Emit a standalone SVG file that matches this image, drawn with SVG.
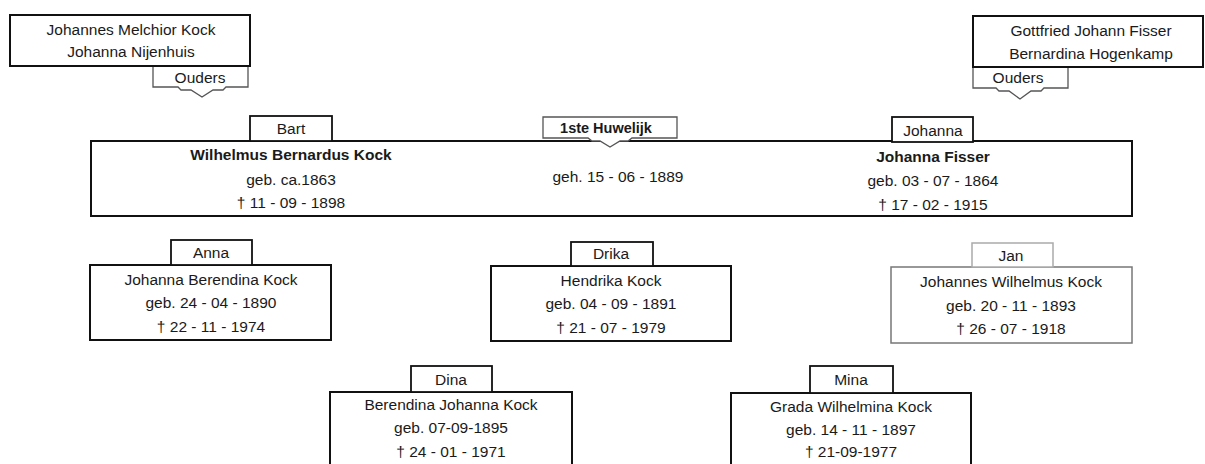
<svg xmlns="http://www.w3.org/2000/svg" width="1205" height="464" viewBox="0 0 1205 464">
<style>
text{font-family:"Liberation Sans",Arial,sans-serif;font-size:15.5px;fill:#1a1a1a;text-anchor:middle}
.b{font-weight:bold}
.box{fill:#fff;stroke:#111;stroke-width:2}
.tab{fill:#fff;stroke:#111;stroke-width:1.8}
.lite{fill:#fff;stroke:#777;stroke-width:1.5}
.call{fill:#fff;stroke:#555;stroke-width:1.3}
</style>
<rect width="1205" height="464" fill="#fff"/>
<g id="connectors">
  <g id="ouders-left">
    <path class="call" d="M153,66 V87 H178 L181,90 H191 L202,97 L213,90 H223 L226,87 H248 V66"/>
    <text x="200" y="83">Ouders</text>
  </g>
  <g id="ouders-right">
    <path class="call" d="M973,67 V88 H996 L999,91 H1009 L1020,99 L1031,91 H1041 L1044,88 H1068 V67"/>
    <text x="1018" y="83">Ouders</text>
  </g>
</g>
<g id="parents-kock">
  <rect class="box" x="10" y="15" width="240" height="51"/>
  <text x="131" y="35">Johannes Melchior Kock</text>
  <text x="131" y="57">Johanna Nijenhuis</text>
</g>
<g id="parents-fisser">
  <rect class="box" x="973" y="16" width="230" height="51"/>
  <text x="1091" y="36">Gottfried Johann Fisser</text>
  <text x="1091" y="59">Bernardina Hogenkamp</text>
</g>
<g id="couple">
  <rect class="box" x="91" y="141" width="1041" height="75"/>
  <rect class="tab" x="250" y="116" width="82" height="25"/>
  <text x="291" y="134">Bart</text>
  <text class="b" x="291" y="160">Wilhelmus Bernardus Kock</text>
  <text x="291" y="185">geb. ca.1863</text>
  <text x="291" y="208">† 11 - 09 - 1898</text>
  <rect class="tab" x="892" y="117" width="81" height="25"/>
  <text x="933" y="136">Johanna</text>
  <text class="b" x="933" y="162">Johanna Fisser</text>
  <text x="933" y="186">geb. 03 - 07 - 1864</text>
  <text x="933" y="210">† 17 - 02 - 1915</text>
  <g id="marriage">
    <path class="call" d="M543,138 V117 H677 V138 H632 L628,141 H620 L610,147 L600,141 H592 L588,138 Z"/>
    <text class="b" x="606" y="133" style="font-size:14.5px">1ste Huwelijk</text>
    <text x="618" y="182">geh. 15 - 06 - 1889</text>
  </g>
</g>
<g id="anna">
  <rect class="box" x="90" y="265" width="241" height="75"/>
  <rect class="tab" x="171" y="240" width="81" height="25"/>
  <text x="211" y="258">Anna</text>
  <text x="211" y="285">Johanna Berendina Kock</text>
  <text x="211" y="308">geb. 24 - 04 - 1890</text>
  <text x="211" y="332">† 22 - 11 - 1974</text>
</g>
<g id="drika">
  <rect class="box" x="491" y="266" width="240" height="75"/>
  <rect class="tab" x="571" y="242" width="82" height="24"/>
  <text x="611" y="259">Drika</text>
  <text x="611" y="286">Hendrika Kock</text>
  <text x="611" y="309">geb. 04 - 09 - 1891</text>
  <text x="611" y="333">† 21 - 07 - 1979</text>
</g>
<g id="jan">
  <rect class="lite" x="891" y="267" width="241" height="76"/>
  <rect class="lite" x="972" y="243" width="81" height="24" style="stroke:#aaa"/>
  <text x="1011" y="261">Jan</text>
  <text x="1011" y="287">Johannes Wilhelmus Kock</text>
  <text x="1011" y="311">geb. 20 - 11 - 1893</text>
  <text x="1011" y="334">† 26 - 07 - 1918</text>
</g>
<g id="dina">
  <rect class="box" x="330" y="392" width="242" height="90"/>
  <rect class="tab" x="411" y="366" width="81" height="26"/>
  <text x="451" y="385">Dina</text>
  <text x="451" y="410">Berendina Johanna Kock</text>
  <text x="451" y="433">geb. 07-09-1895</text>
  <text x="451" y="457">† 24 - 01 - 1971</text>
</g>
<g id="mina">
  <rect class="box" x="731" y="393" width="240" height="90"/>
  <rect class="tab" x="810" y="366" width="83" height="27"/>
  <text x="851" y="385">Mina</text>
  <text x="851" y="412">Grada Wilhelmina Kock</text>
  <text x="851" y="435">geb. 14 - 11 - 1897</text>
  <text x="851" y="457">† 21-09-1977</text>
</g>
</svg>
